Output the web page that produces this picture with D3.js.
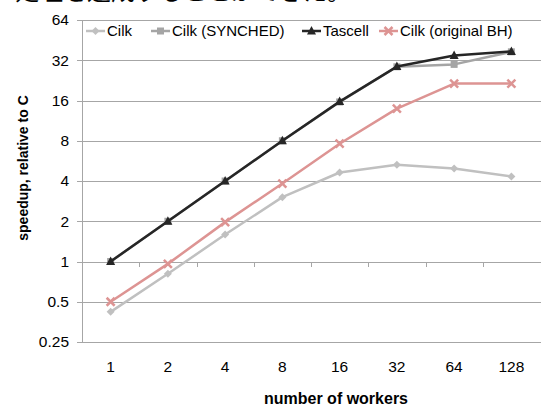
<!DOCTYPE html>
<html>
<head>
<meta charset="utf-8">
<script src="https://cdn.jsdelivr.net/npm/d3@7"></script>
<style>
body { margin: 0; background: #fff; }
svg { display: block; font-family: "Liberation Sans", Arial, sans-serif; }
</style>
</head>
<body>
<script>
'use strict';
let workers = ["1", "2", "4", "8", "16", "32", "64", "128"];
let yTicks = [0.25, 0.5, 1, 2, 4, 8, 16, 32, 64];
let cilk = [0.42, 0.81, 1.59, 3.03, 4.63, 5.3, 4.96, 4.32];
let cilkSynched = [1, 2, 4, 8, 15.6, 28.6, 29.8, 37];
let tascell = [1, 2, 4, 8, 15.7, 28.7, 34.7, 37.2];
let cilkOrig = [0.5, 0.96, 1.97, 3.83, 7.6, 13.9, 21.4, 21.4];

let series = [
	{name: "Cilk", values: cilk, color: "#c0c0c0", marker: "diamond"},
	{name: "Cilk (SYNCHED)", values: cilkSynched, color: "#a5a5a5", marker: "square"},
	{name: "Tascell", values: tascell, color: "#262626", marker: "triangle"},
	{name: "Cilk (original BH)", values: cilkOrig, color: "#dd9493", marker: "cross"}
];

let width = 541, height = 404;
let svg = d3.select("body").append("svg")
	.attr("width", width)
	.attr("height", height);

// caption line of the page above, cut by the top edge
svg.append("text")
	.attr("x", 15)
	.attr("y", 0)
	.attr("font-family", "'Noto Sans CJK JP', sans-serif")
	.attr("font-size", 24)
	.attr("fill", "#000")
	.text("処理を達成することができた。");

let x = d3.scaleBand().domain(workers).range([82, 540]);
let y = d3.scaleLog().base(2).domain([0.25, 64]).range([342, 20]);

// gridlines
svg.selectAll("line.grid")
	.data(yTicks)
	.enter().append("line")
		.attr("class", "grid")
		.attr("x1", 77)
		.attr("x2", 541)
		.attr("y1", function(d){return Math.round(y(d)) + 0.5;})
		.attr("y2", function(d){return Math.round(y(d)) + 0.5;})
		.attr("stroke", "#a6a6a6")
		.attr("stroke-width", 1);

// y axis line
svg.append("line")
	.attr("x1", 82.5).attr("x2", 82.5)
	.attr("y1", y(64)).attr("y2", y(0.25))
	.attr("stroke", "#a6a6a6");

// category tick marks on the axis crossing at 1
let bounds = workers.slice(1).map(function(d){return x(d);});
svg.selectAll("line.xtick")
	.data(bounds)
	.enter().append("line")
		.attr("class", "xtick")
		.attr("x1", function(d){return Math.round(d) + 0.5;})
		.attr("x2", function(d){return Math.round(d) + 0.5;})
		.attr("y1", Math.round(y(1)))
		.attr("y2", Math.round(y(1)) + 5)
		.attr("stroke", "#a6a6a6");

// y tick labels
svg.selectAll("text.ylab")
	.data(yTicks)
	.enter().append("text")
		.attr("class", "ylab")
		.attr("x", 69)
		.attr("y", function(d){return y(d);})
		.attr("dy", "0.35em")
		.attr("text-anchor", "end")
		.attr("font-size", 15.5)
		.text(function(d){return d;});

// x tick labels
svg.selectAll("text.xlab")
	.data(workers)
	.enter().append("text")
		.attr("class", "xlab")
		.attr("x", function(d){return x(d) + x.bandwidth() / 2;})
		.attr("y", 372)
		.attr("text-anchor", "middle")
		.attr("font-size", 15.5)
		.text(function(d){return d;});

// axis titles
svg.append("text")
	.attr("x", 336)
	.attr("y", 404)
	.attr("text-anchor", "middle")
	.attr("font-size", 16)
	.attr("font-weight", "bold")
	.text("number of workers");

svg.append("text")
	.attr("transform", "translate(28,168) rotate(-90)")
	.attr("text-anchor", "middle")
	.attr("font-size", 14)
	.attr("font-weight", "bold")
	.text("speedup, relative to C");

function drawMarker(g, type, color) {
	if (type === "diamond") {
		g.append("path").attr("d", "M0,-4L4,0L0,4L-4,0Z").attr("fill", color);
	} else if (type === "square") {
		g.append("rect").attr("x", -3.5).attr("y", -3.5).attr("width", 7).attr("height", 7).attr("fill", color);
	} else if (type === "triangle") {
		g.append("path").attr("d", "M0,-5L4.5,3.5L-4.5,3.5Z").attr("fill", color);
	} else {
		g.append("path").attr("d", "M-4,-4L4,4M-4,4L4,-4")
			.attr("stroke", color).attr("stroke-width", 2.5).attr("fill", "none");
	}
}

let line = d3.line()
	.x(function(d, i){return x(workers[i]) + x.bandwidth() / 2;})
	.y(function(d){return y(d);});

series.forEach(function(s) {
	svg.append("path")
		.attr("d", line(s.values))
		.attr("fill", "none")
		.attr("stroke", s.color)
		.attr("stroke-width", 2.5)
		.attr("stroke-linejoin", "round");
	svg.selectAll("g.m-" + s.marker)
		.data(s.values)
		.enter().append("g")
			.attr("class", "m-" + s.marker)
			.attr("transform", function(d, i){
				return "translate(" + (x(workers[i]) + x.bandwidth() / 2) + "," + y(d) + ")";
			})
			.each(function(){drawMarker(d3.select(this), s.marker, s.color);});
});

// legend
let legendX = [86, 151, 302, 379];
let legend = svg.selectAll("g.legend")
	.data(series)
	.enter().append("g")
		.attr("class", "legend")
		.attr("transform", function(d, i){return "translate(" + legendX[i] + ",31)";});
legend.append("line")
	.attr("x1", 0).attr("x2", 19)
	.attr("stroke", function(d){return d.color;})
	.attr("stroke-width", 2.5);
legend.each(function(d){
	let g = d3.select(this).append("g").attr("transform", "translate(9.5,0)");
	drawMarker(g, d.marker, d.color);
});
legend.append("text")
	.attr("x", 21)
	.attr("dy", "0.35em")
	.attr("font-size", 15)
	.text(function(d){return d.name;});
</script>
</body>
</html>
